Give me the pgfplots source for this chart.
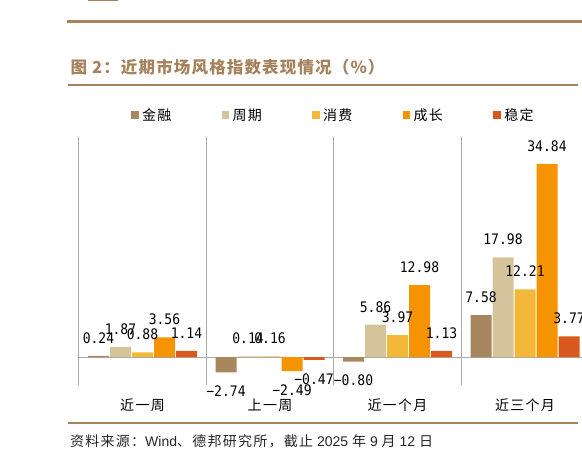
\documentclass[border=0pt]{standalone}
\usepackage{pgfplots}
\pgfplotsset{compat=1.18}
\usepackage{fontspec}
\setmainfont{Liberation Sans}
\newfontfamily\cjk{Noto Sans CJK SC}
\newfontfamily\cjksp[LetterSpace=9]{Noto Sans CJK SC}
\newfontfamily\mono[FakeStretch=0.9]{DejaVu Sans Mono}

\definecolor{brn}{HTML}{A6825C}
\definecolor{gridgray}{HTML}{A8A8A8}
\definecolor{cJR}{HTML}{A8875F}
\definecolor{cZQ}{HTML}{D5C49B}
\definecolor{cXF}{HTML}{F3B838}
\definecolor{cCZ}{HTML}{F59300}
\definecolor{cWD}{HTML}{D8591B}

\pgfplotsset{
  sqlegend/.style={legend image code/.code={\fill[##1] (0pt,-3.75pt) rectangle (7.5pt,3.75pt);}},
}

\begin{document}
\begin{tikzpicture}[x=1pt,y=1pt]
\useasboundingbox (0,0) rectangle (582,460);
% page decoration
\fill[brn] (88,458.5) rectangle (118,460);
\draw[brn, line width=3pt] (67,438.5) -- (582,438.5);
\node[anchor=west, inner sep=0pt, text=brn,
  font=\cjk\bfseries\fontsize{16.5pt}{18pt}\selectfont\addfontfeature{LetterSpace=7}]
  at (70.5,392.5) {图 2：近期市场风格指数表现情况（\%）};
\draw[brn, line width=2pt] (68,375) -- (578,375);
\draw[brn, line width=2pt] (68,37) -- (578,37);
\node[anchor=west, inner sep=0pt, text=black!85, font=\fontsize{14pt}{16pt}\selectfont]
  at (70,19) {{\cjksp 资料来源：}Wind{\cjksp 、德邦研究所，截止} 2025 {\cjk 年} 9 {\cjk 月} 12 {\cjk 日}};

\begin{axis}[
  at={(78.75pt,75pt)}, anchor=south west,
  scale only axis, width=503.25pt, height=248pt,
  xmin=-0.5, xmax=3.447, ymin=-5, ymax=39.69,
  axis line style={draw=none},
  ybar=1pt, bar width=21pt,
  xtick={0,1,2,3},
  xticklabels={近一周,上一周,近一个月,近三个月},
  minor xtick={-0.5,0.5,1.5,2.5}, xminorgrids,
  minor grid style={draw=gridgray, line width=1pt},
  major tick length=0pt, minor tick length=0pt,
  ytick=\empty,
  extra y ticks={0}, extra y tick labels={},
  extra y tick style={grid=major, major grid style={draw=gridgray, line width=1pt}},
  xticklabel style={font=\cjksp\fontsize{14pt}{15pt}\selectfont, anchor=center, yshift=-20pt},
  point meta=explicit symbolic,
  nodes near coords,
  visualization depends on={y \as \rawy},
  every node near coord/.append style={font=\mono\fontsize{14.5pt}{14.5pt}\selectfont,
    anchor=center, inner sep=0pt, text=black,
    yshift={ifthenelse(\rawy>=0,18,-19)}},
  legend style={at={(0.0975,1.0887)}, anchor=west, draw=none, fill=none,
    font=\cjksp\fontsize{14pt}{15pt}\selectfont,
    /tikz/every odd column/.style={column sep=3.5pt},
    /tikz/every even column/.style={column sep=50.3pt},
    nodes={inner sep=0pt}},
  legend columns=5,
]
\addplot[fill=cJR, draw=none, sqlegend] coordinates
  {(0,0.24) [0.24] (1,-2.74) [−2.74] (2,-0.80) [−0.80] (3,7.58) [7.58]};
\addlegendentry{金融}
\addplot[fill=cZQ, draw=none, sqlegend] coordinates
  {(0,1.87) [1.87] (1,0.14) [0.14] (2,5.86) [5.86] (3,17.98) [17.98]};
\addlegendentry{周期}
\addplot[fill=cXF, draw=none, sqlegend] coordinates
  {(0,0.88) [0.88] (1,0.16) [0.16] (2,3.97) [3.97] (3,12.21) [12.21]};
\addlegendentry{消费}
\addplot[fill=cCZ, draw=none, sqlegend] coordinates
  {(0,3.56) [3.56] (1,-2.49) [−2.49] (2,12.98) [12.98] (3,34.84) [34.84]};
\addlegendentry{成长}
\addplot[fill=cWD, draw=none, sqlegend] coordinates
  {(0,1.14) [1.14] (1,-0.47) [−0.47] (2,1.13) [1.13] (3,3.77) [3.77]};
\addlegendentry{稳定}
\end{axis}
\end{tikzpicture}
\end{document}
